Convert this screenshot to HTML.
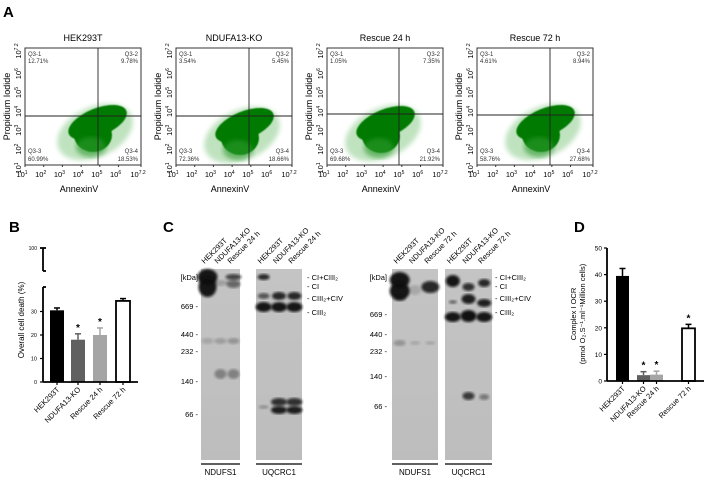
<!DOCTYPE html>
<html><head><meta charset="utf-8"><style>
body{margin:0;background:#fff;}
svg{display:block;font-family:"Liberation Sans",sans-serif;}
</style></head><body>
<svg id="fig" width="704" height="477" viewBox="0 0 704 477">
<defs>
<filter id="blur1"><feGaussianBlur stdDeviation="1.2"/></filter>
<filter id="blur05"><feGaussianBlur stdDeviation="0.6"/></filter>
<filter id="blur2"><feGaussianBlur stdDeviation="2.5"/></filter>
<linearGradient id="blotbg" x1="0" y1="0" x2="0" y2="1"><stop offset="0" stop-color="#c4c4c4"/><stop offset="1" stop-color="#bdbdbd"/></linearGradient>
</defs>
<text x="3" y="17" font-size="15" font-weight="bold">A</text>
<text x="9" y="232" font-size="15" font-weight="bold">B</text>
<text x="163" y="232" font-size="15" font-weight="bold">C</text>
<text x="574" y="232" font-size="15" font-weight="bold">D</text>
<g id="flow"></g><g id="barB"></g><g id="blots"></g><g id="barD"></g>
</svg>
<script>
const NS="http://www.w3.org/2000/svg";
function mk(parent,tag,attrs,txt){const e=document.createElementNS(NS,tag);for(const k in attrs)e.setAttribute(k,attrs[k]);if(txt!==undefined)e.textContent=txt;parent.appendChild(e);return e;}

/* ---------- Panel A: flow cytometry ---------- */
const flowTitles=["HEK293T","NDUFA13-KO","Rescue 24 h","Rescue 72 h"];
const q1=["12.71%","3.54%","1.05%","4.61%"];
const q2=["9.78%","5.45%","7.35%","8.94%"];
const q3=["60.99%","72.36%","69.68%","58.76%"];
const q4=["18.53%","18.66%","21.92%","27.68%"];
const xTicks=["1","2","3","4","5","6","7.2"];
const flowX=[25,176,327,477];
const FW=116,FT=48,FH=117;
const flow=document.getElementById('flow');
const cloudCx=[70,66,56,66], cloudCy=[132,135,133,132];
for(let p=0;p<4;p++){
  const g=mk(flow,'g',{transform:`translate(${flowX[p]},0)`});
  
  
  const t=mk(g,'text',{x:FW/2,y:41,'font-size':9,'text-anchor':'middle'},flowTitles[p]);
  
  const cg=mk(g,'g',{});
  
  const cx=cloudCx[p], cy=cloudCy[p];
  mk(cg,'ellipse',{cx:cx,cy:cy,rx:40,ry:25,fill:'#4caf4c',opacity:0.35,transform:`rotate(-25 ${cx} ${cy})`,filter:'url(#blur2)'});
  mk(cg,'ellipse',{cx:cx+6,cy:cy-8,rx:31,ry:14,fill:'#007a00',transform:`rotate(-22 ${cx} ${cy})`,filter:'url(#blur05)'});
  mk(cg,'ellipse',{cx:cx-2,cy:cy+3,rx:19,ry:17,fill:'#007a00',filter:'url(#blur05)'});
  mk(cg,'ellipse',{cx:cx-4,cy:cy+15,rx:15,ry:10,fill:'#2e9a2e',opacity:0.6,filter:'url(#blur2)'});
  mk(g,'rect',{x:0,y:FT,width:FW,height:FH,fill:'none',stroke:'#333','stroke-width':1});
  const vx=[73,73,72,73][p], hy=[68,68,66,67][p];
  mk(g,'line',{x1:vx,y1:FT,x2:vx,y2:FT+FH,stroke:'#222','stroke-width':0.9});
  mk(g,'line',{x1:0,y1:FT+hy,x2:FW,y2:FT+hy,stroke:'#222','stroke-width':0.9});
  const fs={'font-size':6,fill:'#333'};
  mk(g,'text',Object.assign({x:3,y:56},fs),'Q3-1');mk(g,'text',Object.assign({x:3,y:63},fs),q1[p]);
  mk(g,'text',Object.assign({x:FW-3,y:56,'text-anchor':'end'},fs),'Q3-2');mk(g,'text',Object.assign({x:FW-3,y:63,'text-anchor':'end'},fs),q2[p]);
  mk(g,'text',Object.assign({x:3,y:153},fs),'Q3-3');mk(g,'text',Object.assign({x:3,y:161},fs),q3[p]);
  mk(g,'text',Object.assign({x:FW-3,y:153,'text-anchor':'end'},fs),'Q3-4');mk(g,'text',Object.assign({x:FW-3,y:161,'text-anchor':'end'},fs),q4[p]);
  for(let i=0;i<xTicks.length;i++){
    const xx=(i<6?i*FW/6.2:FW);
    mk(g,'line',{x1:xx,y1:FT+FH,x2:xx,y2:FT+FH+2,stroke:'#333'});
    const tx=mk(g,'text',{x:xx-3,y:177,'font-size':7.5,'text-anchor':'middle'},'10');
    mk(tx,'tspan',{'font-size':5,dy:-3},xTicks[i]);
    const yy=FT+FH-(i<6?i*FH/6.2:FH);
    const ty=mk(g,'text',{'font-size':7.5,'text-anchor':'middle',transform:`translate(-4 ${yy+3}) rotate(-90)`},'10');
    mk(ty,'tspan',{'font-size':5,dy:-3},xTicks[i]);
  }
  const xl=mk(g,'text',{x:FW/2-4,y:192,'font-size':9,'text-anchor':'middle'},'AnnexinV');
  
  const yl=mk(g,'text',{'font-size':9,'text-anchor':'middle',transform:`translate(-15 ${FT+FH/2}) rotate(-90)`},'Propidium Iodide');
  
}

/* ---------- Panel B ---------- */
const bCats=["HEK293T","NDUFA13-KO","Rescue 24 h","Rescue 72 h"];
const bVals=[30.5,18,20,34.5];
const bErr=[1,2.5,3,1];
const bSig=[false,true,true,false];
const bTicks=[0,10,20,30];
const bFill=["#000","#606060","#a5a5a5","#fff"];
(function(){
  const g=document.getElementById('barB');
  const ax=43,y0=382,pp=2.35;
  const Y=v=>y0-v*pp;
  const barX=[50,71,93,116],bw=14;
  for(let i=0;i<bVals.length;i++){
    const top=Y(bVals[i]),col=bFill[i]=='#fff'?'#000':bFill[i];
    mk(g,'line',{x1:barX[i]+bw/2,y1:Y(bVals[i]+bErr[i]),x2:barX[i]+bw/2,y2:top,stroke:col,'stroke-width':1.5});
    mk(g,'line',{x1:barX[i]+bw/2-3,y1:Y(bVals[i]+bErr[i]),x2:barX[i]+bw/2+3,y2:Y(bVals[i]+bErr[i]),stroke:col,'stroke-width':1.5});
    const r=mk(g,'rect',{x:barX[i],y:top,width:bw,height:y0-top,fill:bFill[i],stroke:bFill[i]=='#fff'?'#000':'none','stroke-width':1.8});
    
    
    if(bSig[i])mk(g,'text',{x:barX[i]+bw/2,y:Y(bVals[i]+bErr[i])-3,'font-size':10,'text-anchor':'middle','font-weight':'bold'},'*');
    const lt=mk(g,'text',{'font-size':7.5,'text-anchor':'end',transform:`translate(${barX[i]+bw/2+3} ${y0+8}) rotate(-45)`},bCats[i]);
    
  }
  mk(g,'line',{x1:ax,y1:287,x2:ax,y2:y0,stroke:'#000','stroke-width':1.8});
  mk(g,'line',{x1:ax,y1:248,x2:ax,y2:271,stroke:'#000','stroke-width':1.8});
  mk(g,'line',{x1:ax,y1:287,x2:ax+3,y2:287,stroke:'#000','stroke-width':1.8});
  mk(g,'line',{x1:ax,y1:271,x2:ax+3,y2:271,stroke:'#000','stroke-width':1.8});
  mk(g,'line',{x1:ax-3,y1:248,x2:ax+3,y2:248,stroke:'#000','stroke-width':1.8});
  mk(g,'text',{x:ax-6,y:250,'font-size':5,'text-anchor':'end'},'100');
  mk(g,'line',{x1:ax,y1:y0,x2:138,y2:y0,stroke:'#000','stroke-width':1.8});
  bTicks.forEach(t=>{mk(g,'line',{x1:ax-3,y1:Y(t),x2:ax,y2:Y(t),stroke:'#000','stroke-width':1.2});mk(g,'text',{x:ax-6,y:Y(t)+2,'font-size':5.5,'text-anchor':'end'},String(t));});
  barX.forEach(x=>mk(g,'line',{x1:x+bw/2,y1:y0,x2:x+bw/2,y2:y0+3,stroke:'#000','stroke-width':1.2}));
  const yl=mk(g,'text',{'font-size':8,'text-anchor':'middle',transform:`translate(24 ${320}) rotate(-90)`},'Overall cell death (%)');
  
})();

/* ---------- Panel D ---------- */
const dCats=["HEK293T","NDUFA13-KO","Rescue 24 h","Rescue 72 h"];
const dVals=[39.5,2.2,2.4,19.8];
const dErr=[2.8,1.3,1.3,1.5];
const dSig=[false,true,true,true];
const dTicks=[0,10,20,30,40,50];
const dFill=["#000","#606060","#a5a5a5","#fff"];
(function(){
  const g=document.getElementById('barD');
  const ax=607,y0=381,pp=2.66;
  const Y=v=>y0-v*pp;
  const barX=[616,637,650,682],bw=13;
  for(let i=0;i<dVals.length;i++){
    const top=Y(dVals[i]),col=dFill[i]=='#fff'?'#000':dFill[i];
    mk(g,'line',{x1:barX[i]+bw/2,y1:Y(dVals[i]+dErr[i]),x2:barX[i]+bw/2,y2:top,stroke:col,'stroke-width':1.5});
    mk(g,'line',{x1:barX[i]+bw/2-3,y1:Y(dVals[i]+dErr[i]),x2:barX[i]+bw/2+3,y2:Y(dVals[i]+dErr[i]),stroke:col,'stroke-width':1.5});
    const r=mk(g,'rect',{x:barX[i],y:top,width:bw,height:y0-top,fill:dFill[i],stroke:dFill[i]=='#fff'?'#000':'none','stroke-width':1.8});
    
    
    if(dSig[i])mk(g,'text',{x:barX[i]+bw/2,y:Y(dVals[i]+dErr[i])-3,'font-size':10,'text-anchor':'middle','font-weight':'bold'},'*');
    const lt=mk(g,'text',{'font-size':7.5,'text-anchor':'end',transform:`translate(${barX[i]+bw/2+3} ${y0+8}) rotate(-45)`},dCats[i]);
    
  }
  mk(g,'line',{x1:ax,y1:Y(50),x2:ax,y2:y0,stroke:'#000','stroke-width':1.8});
  mk(g,'line',{x1:ax,y1:y0,x2:704,y2:y0,stroke:'#000','stroke-width':1.8});
  dTicks.forEach(t=>{mk(g,'line',{x1:ax-3,y1:Y(t),x2:ax,y2:Y(t),stroke:'#000','stroke-width':1.2});mk(g,'text',{x:ax-5,y:Y(t)+2.5,'font-size':6.5,'text-anchor':'end'},String(t));});
  barX.forEach(x=>mk(g,'line',{x1:x+bw/2,y1:y0,x2:x+bw/2,y2:y0+3,stroke:'#000','stroke-width':1.2}));
  const yl=mk(g,'text',{'font-size':7.5,'text-anchor':'middle',transform:`translate(576 314) rotate(-90)`},'Complex I OCR');
  
  const yl2=mk(g,'text',{'font-size':7.5,'text-anchor':'middle',transform:`translate(585 314) rotate(-90)`},'(pmol O\u2082.S\u207B\u00B9.ml\u207B\u00B9Million cells)');
  
})();

/* ---------- Panel C: blots ---------- */
(function(){
  const g=document.getElementById('blots');
  const top=269,bot=460;
  const lanes1=["HEK293T","NDUFA13-KO","Rescue 24 h"],lanes2=["HEK293T","NDUFA13-KO","Rescue 72 h"];
  const panels=[
    {x:201,w:39,name:'NDUFS1',lanes:lanes1,bands:[[0,277,10,8,0.95],[0,287,9,10,0.95],[2,277,8,3,0.7],[2,284,7,4,0.5],[1,283,7,3,0.2],[0,341,6,3,0.15],[1,341,6,3,0.2],[2,341,6,3,0.25],[1,374,6,5,0.35],[2,374,6,5,0.35]]},
    {x:256,w:46,name:'UQCRC1',lanes:lanes1,bands:[[0,277,6,3,0.85],[0,296,6,3,0.6],[1,296,7,4,0.85],[2,296,7,4,0.85],[0,307,8,5,0.95],[1,307,8,5,0.95],[2,307,8,5,0.95],[0,407,5,2,0.25],[1,402,8,4,0.8],[2,402,8,4,0.8],[1,410,8,4,0.9],[2,410,8,4,0.9]]},
    {x:392,w:46,name:'NDUFS1',lanes:lanes2,bands:[[0,280,10,8,0.95],[0,291,10,9,0.95],[0,298,6,3,0.5],[2,287,9,6,0.85],[1,290,6,5,0.15],[0,343,6,3,0.25],[1,343,5,2,0.15],[2,343,5,2,0.15]]},
    {x:445,w:47,name:'UQCRC1',lanes:lanes2,bands:[[0,281,7,6,0.95],[1,287,6,4,0.8],[2,283,6,4,0.85],[0,302,4,2,0.5],[1,299,7,5,0.9],[2,303,7,4,0.9],[0,317,8,5,0.95],[1,316,8,6,0.97],[2,317,8,5,0.95],[1,396,6,4,0.75],[2,397,5,3,0.4]]}
  ];
  panels.forEach((p,pi)=>{
    const pg=mk(g,'g',{});
    
    
    mk(pg,'rect',{x:p.x,y:top,width:p.w,height:bot-top,fill:'url(#blotbg)'});
    const lw=p.w/3;
    p.bands.forEach(b=>{mk(pg,'ellipse',{cx:p.x+lw*(b[0]+0.5),cy:b[1],rx:b[2],ry:b[3],fill:'#111',opacity:b[4],filter:'url(#blur1)'});});
    mk(pg,'line',{x1:p.x,y1:464,x2:p.x+p.w,y2:464,stroke:'#000','stroke-width':1.3});
    mk(pg,'text',{x:p.x+p.w/2,y:475,'font-size':8,'text-anchor':'middle'},p.name);
    p.lanes.forEach((l,i)=>{
      mk(pg,'text',{'font-size':7.5,transform:`translate(${p.x+lw*(i+0.5)-3} 264) rotate(-45)`},l);
    });
  });
  const mk1=[["[kDa]",277],["669 -",306],["440 -",334],["232 -",351],["140 -",381],["66 -",414]];
  const mk2=[["[kDa]",277],["669 -",314],["440 -",334],["232 -",351],["140 -",376],["66 -",406]];
  mk1.forEach(m=>mk(g,'text',{x:198,y:m[1]+3,'font-size':7.5,'text-anchor':'end'},m[0]));
  mk2.forEach(m=>mk(g,'text',{x:387,y:m[1]+3,'font-size':7.5,'text-anchor':'end'},m[0]));
  const cl=[["- CI+CIII","\u2082",277],["- CI","",286],["- CIII","\u2082+CIV",298],["- CIII","\u2082",312]];
  [307,495].forEach(x=>cl.forEach(c=>{mk(g,'text',{x:x,y:c[2]+3,'font-size':7.5},c[0]+c[1]);}));
})();
</script>
</body></html>
